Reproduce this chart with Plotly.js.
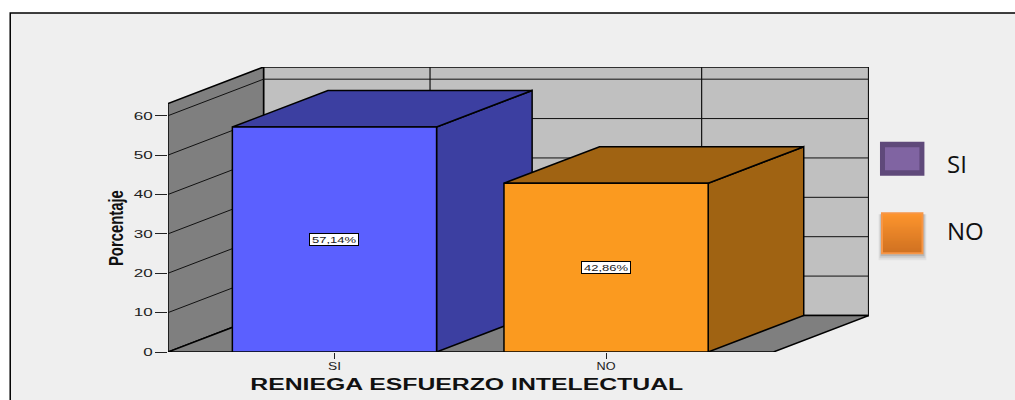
<!DOCTYPE html>
<html>
<head>
<meta charset="utf-8">
<script src="https://cdn.plot.ly/plotly-3.0.1.min.js"></script>
<style>html,body{margin:0;padding:0;background:#fff;overflow:hidden}</style>
</head>
<body>
<div id="chart" style="width:1015px;height:400px"></div>
<script>
const categories = ['SI', 'NO'];
const percentages = [57.14, 42.86];
const pctLabels = ['57,14%', '42,86%'];
const yTicks = [0, 10, 20, 30, 40, 50, 60];
const frontColors = ['#5b60ff', '#fb9a1f'];
const darkColors = ['#3c3fa1', '#a06312'];
const xTitle = 'RENIEGA ESFUERZO INTELECTUAL';
const yTitle = 'Porcentaje';

// plot-area geometry
const L = 167.5, R = 869.5, T = 66.5, B = 352, W = 1015, H = 400;
const catStep = 272, firstCatPx = 334.2, pxPerPct = 3.945;
const xMin = (L - firstCatPx) / catStep, xMax = (R - firstCatPx) / catStep;
const yMax = (B - T) / pxPerPct;
const dX = 95.7 / catStep, dY = 36.6 / pxPerPct, barW = 204.5 / catStep;
const xp = x => (x - L) / (R - L), yp = y => (B - y) / (B - T);

const traces = [];
function poly(xs, ys, fill, lw) {
  traces.push({type:'scatter', mode:'lines', x:[...xs, xs[0]], y:[...ys, ys[0]], fill:'toself',
    fillcolor:fill, line:{color:'#000', width:lw === undefined ? 1.5 : lw}, hoverinfo:'skip',
    showlegend:false, cliponaxis:false});
}
function seg(xs, ys, w, c) {
  traces.push({type:'scatter', mode:'lines', x:xs, y:ys, line:{color:c || '#111', width:w || 1},
    hoverinfo:'skip', showlegend:false, cliponaxis:false});
}
const x0 = xMin, floorRight = xMax - dX;
// walls + floor
poly([x0 + dX, xMax, xMax, x0 + dX], [dY, dY, yMax, yMax], '#c0c0c0', 1.5);
poly([x0, x0 + dX, x0 + dX, x0], [0, dY, yMax, yMax - dY], '#7f7f7f', 1.5);
poly([x0, floorRight, xMax, x0 + dX], [0, 0, dY, dY], '#7f7f7f', 1.5);
// gridlines
yTicks.slice(1).forEach(t => {
  seg([x0, x0 + dX], [t, t + dY], 1);
  seg([x0 + dX, xMax], [t + dY, t + dY], 1);
});
categories.forEach((c, i) => seg([i + dX, i + dX], [dY, yMax], 1.2));
seg([xMax, xMax], [dY, yMax], 2.2);
// bars
percentages.forEach((v, i) => {
  const a = i - barW / 2, b = i + barW / 2;
  poly([b, b + dX, b + dX, b], [0, dY, v + dY, v], darkColors[i]);
  poly([a, b, b + dX, a + dX], [v, v, v + dY, v + dY], darkColors[i]);
  poly([a, b, b, a], [0, 0, v, v], frontColors[i]);
});

// legend + frame
const shapes = [{type:'rect', xref:'paper', yref:'paper', layer:'below',
  x0:xp(9.5), x1:xp(1040), y0:yp(12.5), y1:yp(430), fillcolor:'#efefef', line:{color:'#000', width:1.5}}];
function box(a, b, c, d, fill) {
  shapes.push({type:'rect', xref:'paper', yref:'paper', layer:'above', x0:xp(a), x1:xp(b), y0:yp(c), y1:yp(d),
    fillcolor:fill, line:{color:fill, width:0}});
}
box(880.5, 925, 141.5, 175.5, '#5f497a');
box(885.5, 920, 147, 170, '#8064a2');
[[6,'rgba(0,0,0,0.05)'],[4,'rgba(0,0,0,0.08)'],[2,'rgba(0,0,0,0.12)']].forEach(s =>
  box(882 - s[0] / 2, 924 + s[0] / 2, 214, 254 + s[0], s[1]));
box(881.5, 924, 212, 254, '#f79646');
const gradTop = [253, 148, 40], gradBot = [200, 106, 26];
for (let k = 0; k < 38; k++) {
  const f = k / 37, c = gradTop.map((g, j) => Math.round(g + (gradBot[j] - g) * f));
  box(883.5, 922, 214 + k, 215 + k, `rgb(${c.join(',')})`);
}

const annotations = percentages.map((v, i) => ({
  x:i, y:v / 2, xref:'x', yref:'y', text:pctLabels[i], showarrow:false, width:48, height:11,
  bgcolor:'#fff', bordercolor:'#000', borderwidth:1, borderpad:0,
  font:{family:'Liberation Sans', size:9, color:'#222'}
}));
annotations.push({x:xp(466.5), y:yp(385), xref:'paper', yref:'paper', xanchor:'center', yanchor:'middle', text:'<b>' + xTitle + '</b>', showarrow:false,
  font:{family:'Liberation Sans', size:16, color:'#111'}});
annotations.push({x:xp(115), y:yp(228), xref:'paper', yref:'paper', xanchor:'center', yanchor:'middle', text:'<b>' + yTitle + '</b>', textangle:-90, showarrow:false,
  font:{family:'Liberation Sans', size:21, color:'#111'}});
categories.forEach((c, i) => annotations.push({x:xp(946), y:yp(i ? 230 : 163), xref:'paper', yref:'paper', xanchor:'left', yanchor:'middle',
  text:c, showarrow:false, font:{family:'Open Sans', size:24, color:'#111'}}));

Plotly.newPlot('chart', traces, {
  width:W, height:H, paper_bgcolor:'#fff', plot_bgcolor:'rgba(0,0,0,0)', showlegend:false,
  margin:{l:L, r:W - R, t:T, b:H - B, pad:0},
  xaxis:{range:[xMin, xMax], tickvals:categories.map((c, i) => i), ticktext:categories, ticks:'outside', ticklen:6, tickcolor:'#222',
    tickwidth:1, ticklabelstandoff:-2, showgrid:false, zeroline:false, showline:false, tickfont:{family:'Liberation Sans', size:11, color:'#222'}},
  yaxis:{range:[0, yMax], tickvals:yTicks, ticks:'outside', ticklen:12, tickcolor:'#222', tickwidth:1,
    showgrid:false, zeroline:false, showline:false, tickfont:{family:'Liberation Sans', size:11, color:'#222'}},
  shapes, annotations
}, {displayModeBar:false, staticPlot:true}).then(() => {
  const stretch = (el, len) => { el.setAttribute('textLength', len); el.setAttribute('lengthAdjust', 'spacingAndGlyphs'); };
  const ann = document.querySelectorAll('.annotation-text');
  stretch(ann[0], 44); stretch(ann[1], 44); stretch(ann[2], 433); stretch(ann[3], 76);
  document.querySelectorAll('.ytick text').forEach(t => stretch(t, t.textContent.length * 9.5));
  document.querySelectorAll('.xtick text').forEach(t => stretch(t, t.textContent === 'SI' ? 13 : 19));
});
</script>
</body>
</html>
